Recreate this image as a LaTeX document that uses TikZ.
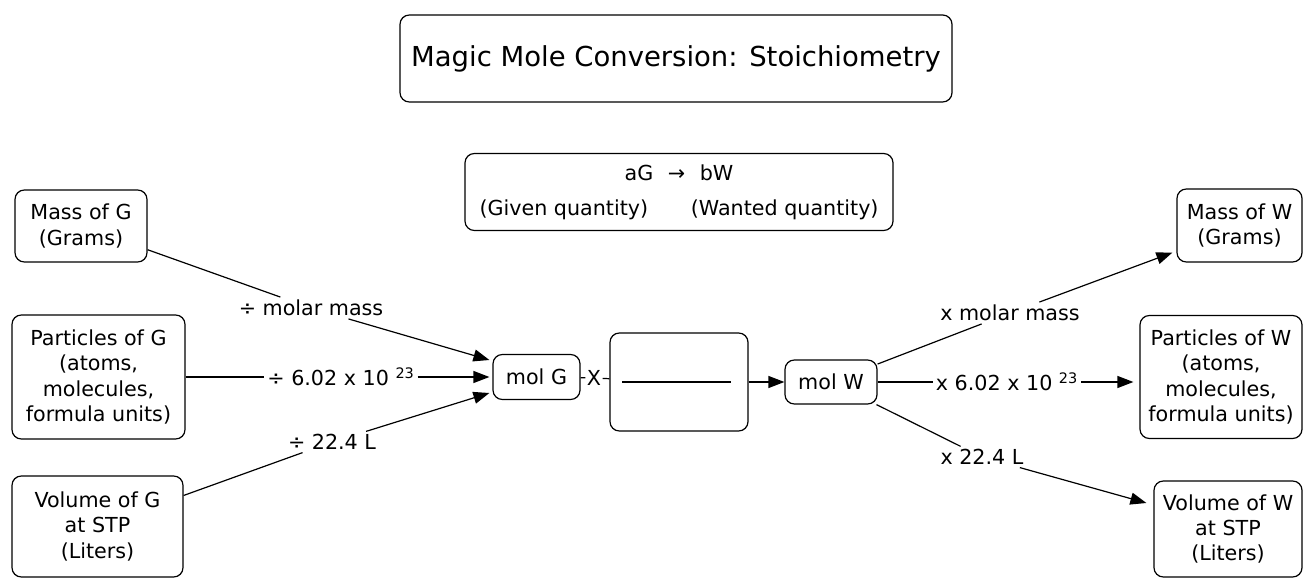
\documentclass[tikz,border=0pt]{standalone}
\usepackage{fontspec}
\setmainfont{DejaVu Sans}
\usetikzlibrary{arrows.meta,calc}
\def\pxu{0.75pt}
\begin{document}
\begin{tikzpicture}[x=0.75pt,y=-0.75pt,
  box/.style={draw=black,line width=0.9pt,rounded corners=7pt,align=center,inner sep=0pt,
    font=\fontsize{15.5}{19}\selectfont},
  lbl/.style={inner sep=2pt,font=\fontsize{15.5}{19}\selectfont},
  conn/.style={line width=0.9pt},
  arr/.style={conn,-{Triangle[length=12pt,width=9pt]}},
]
\fill[white] (0,0) rectangle (1303,580);
\useasboundingbox (0,0) rectangle (1303,580);

% title and equation
\node[box,minimum width=552*\pxu,minimum height=87*\pxu,font=\fontsize{20.6}{24}\selectfont]
  (title) at (676,58.5) {Magic Mole Conversion: Stoichiometry};
\node[box,minimum width=428*\pxu,minimum height=77*\pxu]
  (eq) at (679,192) {aG\hspace{6pt} → \hspace{6pt}bW\\[7pt](Given quantity)\hspace{32pt}(Wanted quantity)};

% left boxes
\node[box,minimum width=132*\pxu,minimum height=72*\pxu] (mg) at (81,226) {Mass of G\\(Grams)};
\node[box,minimum width=173*\pxu,minimum height=124*\pxu] (pg) at (98.5,377) {Particles of G\\(atoms,\\molecules,\\formula units)};
\node[box,minimum width=171*\pxu,minimum height=101*\pxu] (vg) at (97.5,526.5) {Volume of G\\at STP\\(Liters)};

% center
\node[box,minimum width=87*\pxu,minimum height=45*\pxu] (molG) at (536.5,377) {mol G};
\node[lbl,inner sep=1pt] (xl) at (594,378) {X};
\node[box,minimum width=138*\pxu,minimum height=98*\pxu] (conv) at (679,382) {};
\draw[conn] ($(conv.west)+(13,0)$) -- ($(conv.east)+(-18,0)$);
\node[box,minimum width=92*\pxu,minimum height=44*\pxu] (molW) at (831,382) {mol W};

% right boxes
\node[box,minimum width=125*\pxu,minimum height=73*\pxu] (mw) at (1239.5,225.5) {Mass of W\\(Grams)};
\node[box,minimum width=162*\pxu,minimum height=123*\pxu] (pw) at (1221,377) {Particles of W\\(atoms,\\molecules,\\formula units)};
\node[box,minimum width=148*\pxu,minimum height=96*\pxu] (vw) at (1228,529) {Volume of W\\at STP\\(Liters)};

% labels
\node[lbl] (l1) at (311,308) {÷ molar mass};
\node[lbl] (l2) at (341,377) {÷ 6.02 x 10 \textsuperscript{23}};
\node[lbl] (l3) at (332,442) {÷ 22.4 L};
\node[lbl] (r1) at (1010,313) {x molar mass};
\node[lbl] (r2) at (1007,382) {x 6.02 x 10 \textsuperscript{23}};
\node[lbl] (r3) at (982,457) {x 22.4 L};

% left connectors
\draw[conn] (mg) -- (l1);
\draw[arr] (l1) -- ($(molG.west)+(-3,-17)$);
\draw[conn] (pg) -- (l2);
\draw[arr] (l2) -- ($(molG.west)+(-3,0)$);
\draw[conn] (vg) -- (l3);
\draw[arr] (l3) -- ($(molG.west)+(-3,16)$);

% center connectors
\draw[conn] (molG) -- (xl);
\draw[conn] (xl) -- (conv);
\draw[arr] (conv) -- (molW);

% right connectors
\draw[conn] (molW) -- (r1);
\draw[arr] (r1) -- ($(mw.south west)+(-4,-10)$);
\draw[conn] (molW) -- (r2);
\draw[arr] (r2) -- ($(pw.west)+(-6,5)$);
\draw[conn] (molW) -- (r3);
\draw[arr] (r3) -- ($(vw.west)+(-7,-26)$);
\end{tikzpicture}
\end{document}
